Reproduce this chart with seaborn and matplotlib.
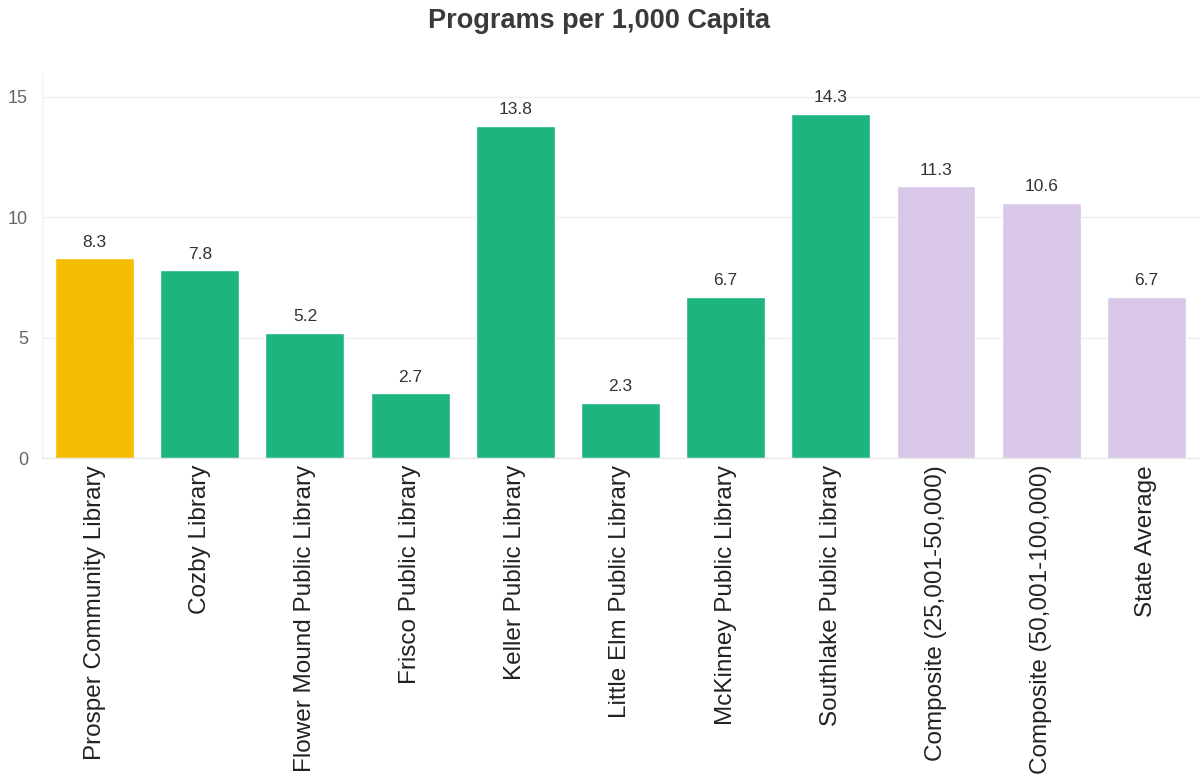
import matplotlib
matplotlib.use("Agg")
import matplotlib.pyplot as plt
import seaborn as sns
import pandas as pd
import numpy as np

# Chart data
libraries = ["Prosper Community Library", "Cozby Library", "Flower Mound Public Library",
             "Frisco Public Library", "Keller Public Library", "Little Elm Public Library",
             "McKinney Public Library", "Southlake Public Library", "Composite (25,001-50,000)",
             "Composite (50,001-100,000)", "State Average"]
programs = [8.3, 7.8, 5.2, 2.7, 13.8, 2.3, 6.7, 14.3, 11.3, 10.6, 6.7]
group = ["Prosper", "Peer", "Peer", "Peer", "Peer", "Peer", "Peer", "Peer",
         "Benchmark", "Benchmark", "Benchmark"]

palette = {"Prosper": "#F5BD02", "Peer": "#1DB47E", "Benchmark": "#D8C7E8"}

df = pd.DataFrame({"Library": libraries, "Programs": programs, "Group": group})

sns.set_style("white")
plt.rcParams['font.family'] = ['Liberation Sans', 'DejaVu Sans']

fig = plt.figure(figsize=(11.99, 7.83), dpi=100)
ax = fig.add_axes([0.035, 0.415, 0.965, 0.492])

sns.barplot(data=df, x="Library", y="Programs", hue="Group", palette=palette,
            dodge=False, legend=False, width=0.75, saturation=1, ax=ax)

# value labels
for i, v in enumerate(programs):
    ax.text(i, v + 0.35, f"{v:.1f}", ha="center", va="bottom", fontsize=12.5, color="#333333")

ax.set_ylim(0, 16)
ax.set_xlim(-0.5, len(libraries) - 0.5)
ax.set_yticks([0, 5, 10, 15])
ax.yaxis.grid(True, color="#EEEEEE", linewidth=1)
ax.set_axisbelow(True)
ax.axvline(-0.5, color="#EEEEEE", linewidth=1, zorder=0)
for s in ["top", "right", "left"]:
    ax.spines[s].set_visible(False)
ax.spines["bottom"].set_color("#E6E6E6")

ax.set_xticks(range(len(libraries)))
ax.set_xticklabels(libraries, rotation=90, fontsize=17.5, color="#222222")
ax.set_xticks(np.arange(-0.5, len(libraries), 1), minor=True)
ax.tick_params(axis="x", which="major", length=0, pad=5)
ax.tick_params(axis="x", which="minor", length=5, color="#E6E6E6")
ax.tick_params(axis="y", length=0, labelsize=13, labelcolor="#666666", pad=10)
ax.set_xlabel("")
ax.set_ylabel("")

fig.suptitle("Programs per 1,000 Capita", x=0.5, y=0.99, fontsize=19.5,
             fontweight="bold", color="#3A3A3A")

fig.savefig("out.png", dpi=100)
